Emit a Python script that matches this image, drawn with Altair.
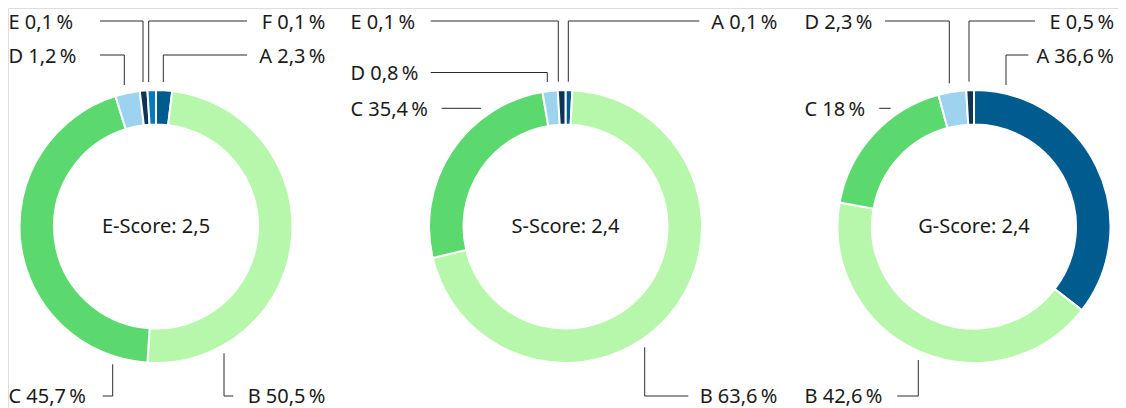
import altair as alt
import pandas as pd

# ---------------- data ----------------
score_keys = ["E", "S", "G"]
score_titles = ["E-Score: 2,5", "S-Score: 2,4", "G-Score: 2,4"]

grade_names = ["A", "B", "C", "D", "E", "F"]
grade_colors = ["#005b8e", "#b6f7ab", "#5bd96f", "#9dd3ee", "#0d3454", "#0979bd"]

# E-Score
e_grades = ["A", "B", "C", "D", "E", "F"]
e_label_values = [2.3, 50.5, 45.7, 1.2, 0.1, 0.1]
e_slice_shares = [1.9, 49.1, 44.2, 2.9, 0.9, 1.0]

# S-Score
s_grades = ["A", "B", "C", "D", "E"]
s_label_values = [0.1, 63.6, 35.4, 0.8, 0.1]
s_slice_shares = [0.8, 70.5, 26.0, 1.8, 0.9]

# G-Score
g_grades = ["A", "B", "C", "D", "E"]
g_label_values = [36.6, 42.6, 18, 2.3, 0.5]
g_slice_shares = [35.5, 42.3, 18.0, 3.3, 0.9]

# ---------------- layout (pixels, chart coordinates) ----------------
W, H = 1110, 400
FONT = "Noto Sans"
FS = 20
TXT = "#1a1a1a"
LINE = "#2a2a2a"
centres = {"E": (148, 218.5), "S": (557.5, 218.5), "G": (966, 218.5)}

# label anchor: (text x, text y, align, leader polyline points)
label_layout = {
    ("E", "E"): (0.5, 14.7, "left", [(92, 13), (135, 13), (135, 74)]),
    ("E", "F"): (317.5, 14.7, "right", [(239, 13), (140.7, 13), (140.7, 74)]),
    ("E", "D"): (0.5, 48.7, "left", [(92, 47), (116.3, 47), (116.3, 77)]),
    ("E", "A"): (317.5, 48.7, "right", [(239, 47), (155.3, 47), (155.3, 74)]),
    ("E", "C"): (0.5, 388.7, "left", [(94.7, 388), (104.7, 388), (104.7, 356.3)]),
    ("E", "B"): (317.5, 388.7, "right", [(225.3, 388), (216, 388), (216, 345.3)]),
    ("S", "E"): (342.5, 14.7, "left", [(422.7, 13), (550.3, 13), (550.3, 73.7)]),
    ("S", "A"): (769.5, 14.7, "right", [(691.3, 13), (560.3, 13), (560.3, 73.7)]),
    ("S", "D"): (342.5, 66, "left", [(422.7, 64.5), (539.3, 64.5), (539.3, 74)]),
    ("S", "C"): (342.5, 101.5, "left", [(433.7, 100.3), (473, 100.3)]),
    ("S", "B"): (769.5, 388.7, "right", [(680.3, 388), (636.7, 388), (636.7, 339.3)]),
    ("G", "D"): (796.5, 14.7, "left", [(877, 13), (941.3, 13), (941.3, 75.3)]),
    ("G", "E"): (1106, 14.7, "right", [(1027, 13), (961, 13), (961, 73.7)]),
    ("G", "A"): (1106, 48.7, "right", [(1020.3, 47), (998, 47), (998, 77)]),
    ("G", "C"): (796.5, 101.5, "left", [(871.3, 100.3), (882.7, 100.3)]),
    ("G", "B"): (796.5, 388.7, "left", [(889.3, 388), (910.3, 388), (910.3, 352)]),
}


def fmt(v):
    s = f"{v:g}".replace(".", ",")
    return s + "\u2009%"


series = {
    "E": (e_grades, e_label_values, e_slice_shares),
    "S": (s_grades, s_label_values, s_slice_shares),
    "G": (g_grades, g_label_values, g_slice_shares),
}

arc_rows, text_rows, seg_rows = [], [], []
for sk in score_keys:
    gs, lv, sh = series[sk]
    for i, (g, v, s) in enumerate(zip(gs, lv, sh)):
        arc_rows.append({"score": sk, "grade": g, "idx": i, "share": s})
        tx, ty, al, pts = label_layout[(sk, g)]
        text_rows.append({"score": sk, "grade": g, "label": f"{g} {fmt(v)}",
                          "tx": tx, "ty": ty, "align": al})
        for (x1, y1), (x2, y2) in zip(pts[:-1], pts[1:]):
            seg_rows.append({"x1": x1, "y1": y1, "x2": x2, "y2": y2})

arcs = pd.DataFrame(arc_rows)
texts = pd.DataFrame(text_rows)
segs = pd.DataFrame(seg_rows)
titles = pd.DataFrame({
    "score": score_keys,
    "title": score_titles,
    "cx": [centres[k][0] for k in score_keys],
    "cy": [centres[k][1] for k in score_keys],
})

color_scale = alt.Scale(domain=grade_names, range=grade_colors)

layers = []
for sk in score_keys:
    cx, cy = centres[sk]
    arc = (
        alt.Chart(arcs)
        .transform_filter(alt.datum.score == sk)
        .transform_window(cum="sum(share)", frame=[None, 0],
                          sort=[alt.SortField("idx")])
        .transform_joinaggregate(total="sum(share)")
        .transform_calculate(
            t0="(datum.cum - datum.share) / datum.total * 2 * PI",
            t1="datum.cum / datum.total * 2 * PI",
        )
        .mark_arc(innerRadius=102, outerRadius=136.5, stroke="white", strokeWidth=2)
        .encode(
            theta=alt.Theta("t0:Q", scale=None),
            theta2="t1:Q",
            color=alt.Color("grade:N", scale=color_scale, legend=None),
            x=alt.value(cx),
            y=alt.value(cy),
        )
    )
    layers.append(arc)

title_layer = alt.Chart(titles).mark_text(
    font=FONT, fontSize=FS, color=TXT, align="center", baseline="middle"
).encode(
    x=alt.X("cx:Q", scale=None, axis=None),
    y=alt.Y("cy:Q", scale=None, axis=None),
    text="title:N",
)

rule_layer = alt.Chart(segs).mark_rule(color=LINE, strokeWidth=1).encode(
    x=alt.X("x1:Q", scale=None, axis=None),
    y=alt.Y("y1:Q", scale=None, axis=None),
    x2="x2:Q",
    y2="y2:Q",
)

left_text = alt.Chart(texts).transform_filter(alt.datum.align == "left").mark_text(
    font=FONT, fontSize=FS, color=TXT, align="left", baseline="middle"
).encode(
    x=alt.X("tx:Q", scale=None, axis=None),
    y=alt.Y("ty:Q", scale=None, axis=None),
    text="label:N",
)

right_text = alt.Chart(texts).transform_filter(alt.datum.align == "right").mark_text(
    font=FONT, fontSize=FS, color=TXT, align="right", baseline="middle"
).encode(
    x=alt.X("tx:Q", scale=None, axis=None),
    y=alt.Y("ty:Q", scale=None, axis=None),
    text="label:N",
)

chart = (
    alt.layer(*layers, rule_layer, title_layer, left_text, right_text)
    .properties(width=W, height=H, autosize=alt.AutoSizeParams(type="none"), padding=0)
    .configure_view(stroke=None)
    .configure(background="white")
)

chart.save("out.html", embed_options={"renderer": "svg", "actions": False})
